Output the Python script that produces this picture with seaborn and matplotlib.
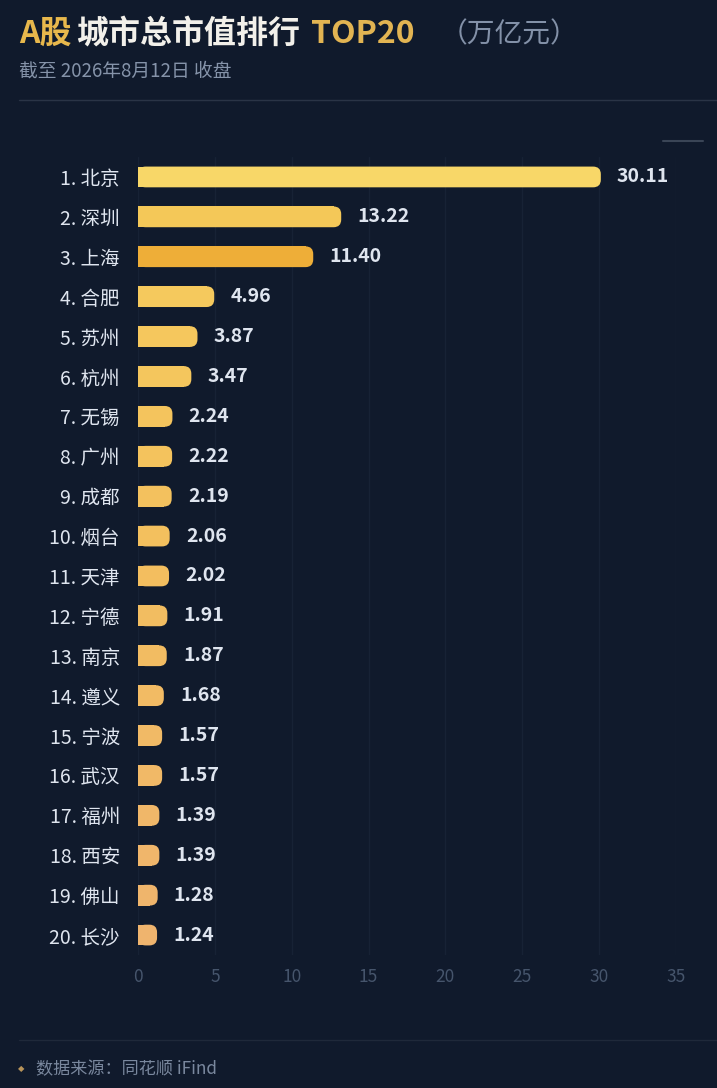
import seaborn as sns
import matplotlib.pyplot as plt
import pandas as pd
from matplotlib.patches import FancyBboxPatch
from matplotlib.lines import Line2D

cities = ["北京", "深圳", "上海", "合肥", "苏州", "杭州", "无锡", "广州", "成都", "烟台",
          "天津", "宁德", "南京", "遵义", "宁波", "武汉", "福州", "西安", "佛山", "长沙"]
values = [30.11, 13.22, 11.40, 4.96, 3.87, 3.47, 2.24, 2.22, 2.19, 2.06,
          2.02, 1.91, 1.87, 1.68, 1.57, 1.57, 1.39, 1.39, 1.28, 1.24]
x_ticks = [0, 5, 10, 15, 20, 25, 30, 35]

df = pd.DataFrame({"label": [f"{i + 1}. {c}" for i, c in enumerate(cities)], "value": values})

BG = "#101a2c"
sns.set_theme(style="dark")
plt.rcParams["font.family"] = ["Noto Sans CJK SC", "DejaVu Sans"]

colors = sns.blend_palette(["#F6CD5C", "#F3BF5E", "#EFB46E"], len(df))
colors[0] = "#F8D768"
colors[1] = "#F4C858"
colors[2] = "#EEAE38"

fig = plt.figure(figsize=(7.17, 10.88), dpi=100, facecolor=BG)
ax = fig.add_axes([138 / 717, 1 - 955 / 1088, (676 - 138) / 717, (955 - 157) / 1088])
ax.set_facecolor(BG)

sns.barplot(data=df, x="value", y="label", hue="label", palette=colors, legend=False,
            width=0.52, orient="h", ax=ax, saturation=1)

ax.set_xlim(0, 35)
ax.set_ylim(len(df) - 0.5, -0.5)
ax.set_xticks(x_ticks)
ax.set_xlabel("")
ax.set_ylabel("")
for s in ax.spines.values():
    s.set_visible(False)
ax.grid(axis="x", color="#172235", linewidth=1)
ax.grid(axis="y", visible=False)
ax.tick_params(axis="x", colors="#46556c", labelsize=12.5, length=0, pad=9)
ax.tick_params(axis="y", colors="#dfe5ef", labelsize=14, length=0, pad=13)

# rounded right ends
r = 0.5
for p in list(ax.patches):
    x0, y0, w, h = p.get_x(), p.get_y(), p.get_width(), p.get_height()
    fb = FancyBboxPatch((x0, y0), w, h, boxstyle=f"round,pad=0,rounding_size={r}",
                        mutation_aspect=0.385, facecolor=p.get_facecolor(),
                        edgecolor="none", zorder=p.get_zorder())
    ax.add_patch(fb)
    p.set_width(w - r)
    p.set_edgecolor("none")

for i, v in enumerate(values):
    ax.text(v + 1.05, i, f"{v:.2f}", va="center", ha="left", color="#dfe5ef",
            fontsize=14, fontweight="bold")

# header
fig.canvas.draw()
renderer = fig.canvas.get_renderer()
x = 19 / 717
ty = 1 - 34 / 1088
parts = [("A股", "#E8B84C", "bold", 23, 0.007),
         ("城市总市值排行", "#F2F0EA", "bold", 23, 0.014),
         ("TOP20", "#E2B452", "bold", 23, 0.036),
         ("（万亿元）", "#8391a8", "normal", 20, 0)]
for txt, col, wt, fs, gap in parts:
    t = fig.text(x, ty, txt, color=col, fontweight=wt, fontsize=fs, va="center", ha="left")
    bb = t.get_window_extent(renderer)
    x = bb.x1 / fig.bbox.width + gap

fig.text(19 / 717, 1 - 71 / 1088, "截至 2026年8月12日 收盘", color="#8593a9",
         fontsize=13.5, va="center", ha="left")

fig.add_artist(Line2D([19 / 717, 1], [1 - 100 / 1088] * 2, color="#2a3446", linewidth=1))
fig.add_artist(Line2D([663 / 717, 703 / 717], [1 - 141 / 1088] * 2, color="#3a4556", linewidth=1.5))
fig.add_artist(Line2D([19 / 717, 1], [1 - 1040 / 1088] * 2, color="#1f293a", linewidth=1))

fig.text(21 / 717, 1 - 1069 / 1088, "◆", color="#b8945a", fontsize=6, va="center", ha="center",
         family=["DejaVu Sans"])
fig.text(36 / 717, 1 - 1069 / 1088, "数据来源：同花顺 iFind", color="#7a889e",
         fontsize=12.3, va="center", ha="left")

plt.savefig("out.png", dpi=100, facecolor=BG)
